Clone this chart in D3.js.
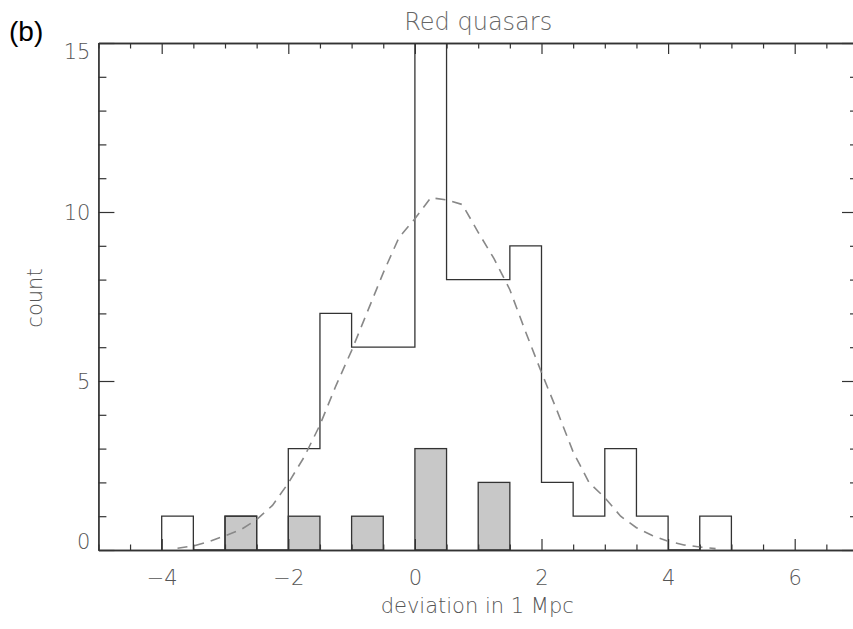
<!DOCTYPE html>
<html>
<head>
<meta charset="utf-8">
<script src="https://cdn.jsdelivr.net/npm/d3@7"></script>
<style>
  body { margin: 0; background: #fff; }
  svg { display: block; }
  text { font-family: "DejaVu Sans", sans-serif; }
</style>
</head>
<body>
<div id="chart"></div>
<script>
// histogram bins: left edges, width 0.5
var binStarts = [-4, -3.5, -3, -2.5, -2, -1.5, -1, -0.5, 0, 0.5, 1, 1.5, 2, 2.5, 3, 3.5, 4, 4.5];
var allCounts = [1, 0, 1, 0, 3, 7, 6, 6, 15, 8, 8, 9, 2, 1, 3, 1, 0, 1];
var subCounts = [0, 0, 1, 0, 1, 0, 1, 0, 3, 0, 2, 0, 0, 0, 0, 0, 0, 0];
var binWidth = 0.5;

// dashed gaussian fit
var fitX = [-3.75, -3.5, -3.25, -3, -2.75, -2.5, -2.25, -2, -1.75, -1.5, -1.25, -1, -0.75, -0.5, -0.25,
            0, 0.25, 0.5, 0.75, 1, 1.25, 1.5, 1.75, 2, 2.25, 2.5, 2.75, 3, 3.25, 3.5, 3.75, 4, 4.25, 4.5, 4.75];
var fitY = [0.05, 0.12, 0.25, 0.42, 0.6, 0.9, 1.32, 1.98, 2.75, 3.7, 4.85, 5.9, 7.05, 8.2, 9.25,
            9.8, 10.42, 10.36, 10.22, 9.4, 8.62, 7.7, 6.45, 5.25, 4.1, 2.9, 2.0, 1.55, 1.0, 0.66, 0.43, 0.26, 0.15, 0.09, 0.04];

var xMajor = [-4, -2, 0, 2, 4, 6];
var yMajor = [0, 5, 10, 15];

var W = 853, H = 629;
var pLeft = 98.4, pRight = 858, pTop = 43, pBottom = 550;

var svg = d3.select("#chart").append("svg")
    .attr("width", W)
    .attr("height", H);

var x = d3.scaleLinear().domain([-5, 7]).range([pLeft, pRight]);
var y = d3.scaleLinear().domain([0, 15]).range([pBottom, pTop]);

var xMinor = d3.range(-5, 7.01, 0.5).filter(v => xMajor.indexOf(v) < 0);
var yMinor = d3.range(0, 15.01, 1).filter(v => yMajor.indexOf(v) < 0);

svg.append("clipPath").attr("id", "plotclip")
    .append("rect")
    .attr("x", pLeft).attr("y", pTop)
    .attr("width", pRight - pLeft).attr("height", pBottom - pTop);

var plot = svg.append("g").attr("clip-path", "url(#plotclip)");

// gray sub-sample bars
plot.selectAll("rect.sub")
    .data(binStarts.map((b, i) => ({x0: b, c: subCounts[i]})).filter(d => d.c > 0))
    .enter()
    .append("rect")
    .attr("class", "sub")
    .attr("x", d => x(d.x0))
    .attr("y", d => y(d.c))
    .attr("width", d => x(d.x0 + binWidth) - x(d.x0))
    .attr("height", d => y(0) - y(d.c))
    .attr("fill", "#c8c8c8")
    .attr("stroke", "#333")
    .attr("stroke-width", 1.3);

// step outline of the full sample
var stepPts = [[binStarts[0], 0]];
binStarts.forEach((b, i) => {
    stepPts.push([b, allCounts[i]]);
    stepPts.push([b + binWidth, allCounts[i]]);
});
stepPts.push([binStarts[binStarts.length - 1] + binWidth, 0]);

plot.append("path")
    .attr("d", d3.line().x(d => x(d[0])).y(d => y(d[1]))(stepPts))
    .attr("fill", "none")
    .attr("stroke", "#333")
    .attr("stroke-width", 1.3);

// fit curve
plot.append("path")
    .attr("d", d3.line().x((d, i) => x(fitX[i])).y(d => y(d))(fitY))
    .attr("fill", "none")
    .attr("stroke", "#888")
    .attr("stroke-width", 1.6)
    .attr("stroke-dasharray", "10,7");

// axes (ticks pointing inward)
function drawAxis(axis, tx, ty, labels) {
    var g = svg.append("g")
        .attr("transform", "translate(" + tx + "," + ty + ")")
        .call(axis);
    g.selectAll("path.domain").attr("stroke", "#333").attr("stroke-width", 1.3);
    g.selectAll(".tick line").attr("stroke", "#333").attr("stroke-width", 1.2);
    g.selectAll(".tick text")
        .attr("fill", "#555")
        .style("font-size", "21px")
        .style("font-weight", "300");
    if (!labels) g.selectAll(".tick text").remove();
    return g;
}

var fmt = d => d < 0 ? "\u2212" + Math.abs(d) : String(d);

var gxb = drawAxis(d3.axisBottom(x).tickValues(xMajor).tickSizeInner(-11).tickSizeOuter(0).tickFormat(fmt), 0, pBottom, true);
drawAxis(d3.axisBottom(x).tickValues(xMinor).tickSizeInner(-5.5).tickSizeOuter(0).tickFormat(""), 0, pBottom, false);
drawAxis(d3.axisTop(x).tickValues(xMajor).tickSizeInner(-11).tickSizeOuter(0), 0, pTop, false);
drawAxis(d3.axisTop(x).tickValues(xMinor).tickSizeInner(-5.5).tickSizeOuter(0), 0, pTop, false);

var gyl = drawAxis(d3.axisLeft(y).tickValues(yMajor).tickSizeInner(-16).tickSizeOuter(0), pLeft, 0, true);
drawAxis(d3.axisLeft(y).tickValues(yMinor).tickSizeInner(-8).tickSizeOuter(0), pLeft, 0, false);
drawAxis(d3.axisRight(y).tickValues(yMajor).tickSizeInner(-16).tickSizeOuter(0), pRight, 0, false);
drawAxis(d3.axisRight(y).tickValues(yMinor).tickSizeInner(-8).tickSizeOuter(0), pRight, 0, false);

gxb.selectAll(".tick text").attr("y", 20).attr("dy", "0.71em");
// end labels sit inside the frame in the original
gyl.selectAll(".tick text")
    .attr("x", -8)
    .attr("dy", d => d === 0 ? "-0.05em" : d === 15 ? "0.75em" : "0.36em");

// titles
svg.append("text")
    .attr("x", (pLeft + pRight) / 2)
    .attr("y", 30)
    .attr("text-anchor", "middle")
    .attr("fill", "#666")
    .style("font-size", "24px")
    .style("font-weight", "300")
    .text("Red quasars");

svg.append("text")
    .attr("x", (pLeft + pRight) / 2 - 1)
    .attr("y", 613)
    .attr("text-anchor", "middle")
    .attr("fill", "#555")
    .style("font-size", "21px")
    .style("font-weight", "300")
    .text("deviation in 1 Mpc");

svg.append("text")
    .attr("transform", "translate(42,298) rotate(-90)")
    .attr("text-anchor", "middle")
    .attr("fill", "#555")
    .style("font-size", "21px")
    .style("font-weight", "300")
    .text("count");

svg.append("text")
    .attr("x", 9)
    .attr("y", 41)
    .attr("fill", "#000")
    .style("font-family", "'Liberation Sans', Arial, sans-serif")
    .style("font-size", "28px")
    .text("(b)");
</script>
</body>
</html>
